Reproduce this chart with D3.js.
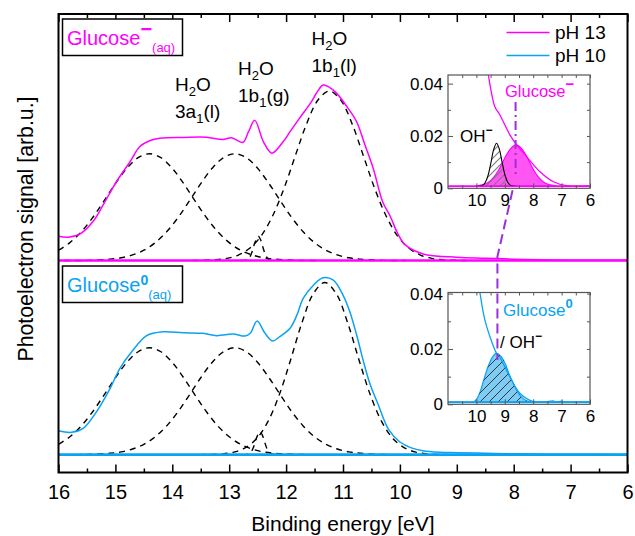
<!DOCTYPE html>
<html><head><meta charset="utf-8">
<script src="https://cdn.jsdelivr.net/npm/d3@7"></script>
<style>body{margin:0;background:#fff}svg{display:block}</style>
</head><body>
<svg id="c" width="635" height="536"></svg>
<script>
// ---------------- data (binding energy [eV], signal) ----------------
const xTicks = [16,15,14,13,12,11,10,9,8,7,6];
const insetXTicks = [10,9,8,7,6];
const insetYTicks = [0,0.02,0.04];
const seriesNames = ["pH 13","pH 10"];

// main spectra (pH 13 drawn with offset 1)
const spec13 = [[16.0,0.125],[15.83,0.120],[15.62,0.137],[15.39,0.202],[15.21,0.289],[14.98,0.407],[14.74,0.510],[14.57,0.587],[14.39,0.618],[14.22,0.630],[13.8,0.634],[13.40,0.635],[13.11,0.623],[12.96,0.633],[12.76,0.609],[12.66,0.664],[12.55,0.722],[12.40,0.613],[12.25,0.553],[12.05,0.613],[11.93,0.664],[11.76,0.735],[11.55,0.82],[11.45,0.87],[11.35,0.904],[11.25,0.895],[11.11,0.861],[10.91,0.784],[10.76,0.715],[10.62,0.60],[10.47,0.476],[10.3,0.30],[10.17,0.228],[10.04,0.14],[9.91,0.082],[9.59,0.034],[9.0,0.017],[8.5,0.012],[8.0,0.007],[7.5,0.004],[7.0,0.002],[6.0,0.001]];
const spec10 = [[16.0,0.123],[15.77,0.115],[15.56,0.137],[15.33,0.222],[15.09,0.343],[14.92,0.445],[14.71,0.531],[14.45,0.613],[14.16,0.633],[13.81,0.628],[13.46,0.625],[13.22,0.613],[12.93,0.621],[12.72,0.611],[12.63,0.625],[12.51,0.688],[12.37,0.625],[12.24,0.586],[12.11,0.608],[11.93,0.651],[11.81,0.719],[11.70,0.805],[11.52,0.873],[11.35,0.911],[11.17,0.899],[11.0,0.822],[10.88,0.736],[10.76,0.616],[10.64,0.479],[10.53,0.368],[10.38,0.257],[10.2,0.13],[10.0,0.065],[9.8,0.035],[9.6,0.02],[9.3,0.012],[9.0,0.010],[8.5,0.007],[8.0,0.004],[7.0,0.002],[6.0,0.001]];

// fitted components (dashed), pH 13
const fit13a = [[16.0,0.053],[15.8,0.092],[15.6,0.148],[15.4,0.221],[15.2,0.307],[15.0,0.396],[14.8,0.475],[14.6,0.530],[14.4,0.550],[14.2,0.530],[14.0,0.475],[13.8,0.396],[13.6,0.307],[13.4,0.221],[13.2,0.148],[13.0,0.092],[12.8,0.053],[12.6,0.029],[12.4,0.014],[12.2,0.007],[11.8,0.001],[11.4,0.0]];
const fit13b = [[15.9,0.0],[15.5,0.001],[15.1,0.007],[14.9,0.014],[14.7,0.029],[14.5,0.053],[14.3,0.092],[14.1,0.148],[13.9,0.221],[13.7,0.307],[13.5,0.396],[13.3,0.475],[13.1,0.530],[12.9,0.550],[12.7,0.530],[12.5,0.475],[12.3,0.396],[12.1,0.307],[11.9,0.221],[11.7,0.148],[11.5,0.092],[11.3,0.053],[11.1,0.029],[10.9,0.014],[10.7,0.007],[10.3,0.001],[9.9,0.0]];
const fit13c = [[12.8,0.0],[12.7,0.003],[12.65,0.013],[12.6,0.043],[12.55,0.091],[12.49,0.125],[12.45,0.108],[12.4,0.061],[12.35,0.022],[12.3,0.005],[12.2,0.0]];
const fit13d = [[13.64,0.0],[13.24,0.004],[13.04,0.011],[12.84,0.028],[12.64,0.063],[12.44,0.126],[12.24,0.228],[12.04,0.369],[11.84,0.538],[11.64,0.704],[11.44,0.827],[11.24,0.873],[11.04,0.827],[10.84,0.704],[10.64,0.538],[10.44,0.369],[10.24,0.228],[10.04,0.126],[9.84,0.063],[9.64,0.028],[9.44,0.011],[9.24,0.004],[8.84,0.0]];
// fitted components (dashed), pH 10
const fit10a = [[16.0,0.053],[15.8,0.092],[15.6,0.148],[15.4,0.221],[15.2,0.307],[15.0,0.396],[14.8,0.475],[14.6,0.530],[14.4,0.551],[14.2,0.530],[14.0,0.475],[13.8,0.396],[13.6,0.307],[13.4,0.221],[13.2,0.148],[13.0,0.092],[12.8,0.053],[12.6,0.029],[12.4,0.014],[12.2,0.007],[11.8,0.001],[11.4,0.0]];
const fit10b = [[15.9,0.0],[15.5,0.001],[15.1,0.007],[14.9,0.014],[14.7,0.029],[14.5,0.053],[14.3,0.092],[14.1,0.148],[13.9,0.221],[13.7,0.307],[13.5,0.396],[13.3,0.475],[13.1,0.530],[12.9,0.551],[12.7,0.530],[12.5,0.475],[12.3,0.396],[12.1,0.307],[11.9,0.221],[11.7,0.148],[11.5,0.092],[11.3,0.053],[11.1,0.029],[10.9,0.014],[10.7,0.007],[10.3,0.001],[9.9,0.0]];
const fit10c = [[12.77,0.0],[12.67,0.003],[12.62,0.012],[12.57,0.040],[12.52,0.086],[12.46,0.118],[12.42,0.102],[12.37,0.058],[12.32,0.021],[12.27,0.005],[12.17,0.0]];
const fit10d = [[13.52,0.0],[13.12,0.004],[12.92,0.013],[12.72,0.035],[12.52,0.082],[12.32,0.170],[12.12,0.308],[11.92,0.489],[11.72,0.681],[11.52,0.830],[11.32,0.887],[11.12,0.830],[10.92,0.681],[10.72,0.489],[10.52,0.308],[10.32,0.170],[10.12,0.082],[9.92,0.035],[9.72,0.013],[9.52,0.004],[9.12,0.0]];

// inset pH 13
const inset13Spec = [[9.75,0.055],[9.58,0.0433],[9.35,0.0312],[9.17,0.028],[8.82,0.0204],[8.62,0.0172],[8.23,0.0121],[7.76,0.0063],[7.29,0.0025],[6.82,0.0010],[6.0,0.0009]];
const inset13Glu = [[11.0,0.0008],[10.2,0.0008],[10.0,0.0009],[9.8,0.0013],[9.6,0.0021],[9.4,0.0041],[9.2,0.0073],[9.0,0.0116],[8.8,0.0151],[8.6,0.0166],[8.4,0.0151],[8.2,0.0116],[8.0,0.0073],[7.8,0.0041],[7.6,0.0021],[7.4,0.0013],[7.2,0.0009],[7.0,0.0008],[6.0,0.0008]];
const inset13OH = [[9.99,0.0008],[9.89,0.0009],[9.79,0.0011],[9.69,0.0022],[9.59,0.0049],[9.49,0.0097],[9.39,0.0149],[9.29,0.0172],[9.19,0.0149],[9.09,0.0097],[8.99,0.0049],[8.89,0.0022],[8.79,0.0011],[8.69,0.0009],[8.59,0.0008]];
// inset pH 10
const inset10Spec = [[10.0,0.05],[9.87,0.040],[9.70,0.0304],[9.46,0.0226],[9.29,0.0184],[9.17,0.0169],[8.82,0.0099],[8.47,0.0040],[8.0,0.0010],[7.6,0.0008],[7.3,0.0012],[7.2,0.0008],[7.0,0.0011],[6.9,0.0008],[6.0,0.0008]];
const inset10Glu = [[11.0,0.0008],[10.2,0.0008],[10.1,0.0009],[10.0,0.0018],[9.87,0.0045],[9.75,0.0085],[9.6,0.0133],[9.45,0.0168],[9.3,0.0184],[9.15,0.0175],[9.0,0.0150],[8.85,0.0110],[8.7,0.0075],[8.55,0.0045],[8.4,0.0025],[8.25,0.0014],[8.1,0.0009],[7.9,0.0008],[6.0,0.0008]];
const peakGlucoseMinus = 8.62, peakGlucoseNeutral = 9.26;

// ---------------- drawing ----------------
const FONT = "'Liberation Sans', Arial, Helvetica, sans-serif";
const MAG = "#ff00ff", BLUE = "#0aa2f2", PURPLE = "#9b30d9";
const svg = d3.select("#c").style("font-family", FONT);
const defs = svg.append("defs");

const L = 58.5, R = 627.5, T = 14, B = 472.5;
const x = d3.scaleLinear().domain([16, 6]).range([L, R]);
const y = d3.scaleLinear().domain([-0.092, 2.27]).range([B, T]);
const OFF13 = 1.0;

defs.append("clipPath").attr("id","mainClip").append("rect").attr("x",L).attr("y",T).attr("width",R-L).attr("height",B-T);

const smooth = d3.curveCatmullRom.alpha(0.5);
const mainLine = off => d3.line().x(d=>x(d[0])).y(d=>y(d[1]+off)).curve(smooth);

const plot = svg.append("g").attr("clip-path","url(#mainClip)");
// dashed fit components
[[fit13a,OFF13],[fit13b,OFF13],[fit13c,OFF13],[fit13d,OFF13],[fit10a,0],[fit10b,0],[fit10c,0],[fit10d,0]].forEach(([d,o])=>{
  plot.append("path").datum(d).attr("d",mainLine(o)).attr("fill","none").attr("stroke","#000")
    .attr("stroke-width",1.4).attr("stroke-dasharray","6,5");
});
// spectra
plot.append("path").datum(spec13).attr("d",mainLine(OFF13)).attr("fill","none").attr("stroke",MAG).attr("stroke-width",1.5);
plot.append("path").datum(spec10).attr("d",mainLine(0)).attr("fill","none").attr("stroke",BLUE).attr("stroke-width",1.5);
// zero lines
plot.append("line").attr("x1",L).attr("x2",R).attr("y1",y(OFF13)).attr("y2",y(OFF13)).attr("stroke",MAG).attr("stroke-width",2.6);
plot.append("line").attr("x1",L).attr("x2",R).attr("y1",y(0)).attr("y2",y(0)).attr("stroke",BLUE).attr("stroke-width",2.6);

// main axes
const halfTicks = d3.range(6.5, 16, 1);
function styleAxis(g, fs){
  g.select(".domain").remove();
  g.selectAll("line").attr("stroke","#000").attr("stroke-width",1.5);
  g.selectAll("text").attr("font-family",FONT).attr("font-size",fs).attr("fill","#000");
}
svg.append("g").attr("transform",`translate(0,${B})`)
  .call(d3.axisBottom(x).tickValues(xTicks).tickSize(-8).tickPadding(12).tickFormat(d3.format("d")))
  .call(g=>styleAxis(g,20));
svg.append("g").attr("transform",`translate(0,${B})`)
  .call(d3.axisBottom(x).tickValues(halfTicks).tickSize(-4).tickFormat(""))
  .call(g=>styleAxis(g,20));
svg.append("g").attr("transform",`translate(0,${T})`)
  .call(d3.axisTop(x).tickValues(xTicks).tickSize(-8).tickFormat(""))
  .call(g=>styleAxis(g,20));
svg.append("g").attr("transform",`translate(0,${T})`)
  .call(d3.axisTop(x).tickValues(halfTicks).tickSize(-4).tickFormat(""))
  .call(g=>styleAxis(g,20));
svg.append("rect").attr("x",L).attr("y",T).attr("width",R-L).attr("height",B-T)
  .attr("fill","none").attr("stroke","#000").attr("stroke-width",2);

// axis titles
svg.append("text").attr("x",(L+R)/2).attr("y",531).attr("text-anchor","middle").attr("font-size",21).text("Binding energy [eV]");
svg.append("text").attr("transform","translate(33,229) rotate(-90)").attr("text-anchor","middle")
  .attr("font-size",22).attr("textLength",265).attr("lengthAdjust","spacingAndGlyphs").text("Photoelectron signal [arb.u.]");

// legend
[[seriesNames[0],MAG,32.5],[seriesNames[1],BLUE,55.5]].forEach(([t,c,yy])=>{
  svg.append("line").attr("x1",506.5).attr("x2",549.5).attr("y1",yy).attr("y2",yy).attr("stroke",c).attr("stroke-width",1.6);
  svg.append("text").attr("x",555).attr("y",yy+6.5).attr("font-size",19).text(t);
});

// panel label boxes
function labelBox(y0, color, sup, supBold){
  svg.append("rect").attr("x",62.5).attr("y",y0).attr("width",120).attr("height",36.5)
    .attr("fill","#fff").attr("stroke","#000").attr("stroke-width",1.5);
  const t = svg.append("text").attr("x",67).attr("y",y0+26).attr("font-size",20).attr("fill",color);
  t.append("tspan").text("Glucose");
  t.append("tspan").attr("dy",supBold?-7:-9).attr("font-size",supBold?14:20).attr("font-weight","bold").text(sup);
  t.append("tspan").attr("dy",supBold?13.5:15.5).attr("font-size",13).text("(aq)");
}
labelBox(19, MAG, "\u2212", false);
labelBox(266, BLUE, "0", true);

// H2O band labels
function bandLabel(x0, y0, top, n, tail){
  const t1 = svg.append("text").attr("x",x0).attr("y",y0).attr("font-size",19);
  t1.append("tspan").text("H");
  t1.append("tspan").attr("dy",5).attr("font-size",13).text("2");
  t1.append("tspan").attr("dy",-5).text("O");
  const t2 = svg.append("text").attr("x",x0).attr("y",y0+27).attr("font-size",19);
  t2.append("tspan").text(top);
  t2.append("tspan").attr("dy",5).attr("font-size",13).text(n);
  t2.append("tspan").attr("dy",-5).text(tail);
}
bandLabel(175, 90.5, "3a", "1", "(l)");
bandLabel(238, 75, "1b", "1", "(g)");
bandLabel(311.5, 45, "1b", "1", "(l)");

// hatch patterns
const p1 = defs.append("pattern").attr("id","hatchGray").attr("patternUnits","userSpaceOnUse").attr("width",7).attr("height",7);
p1.append("path").attr("d","M-1,1 L1,-1 M0,7 L7,0 M6,8 L8,6").attr("stroke","#7a7a7a").attr("stroke-width",1.1);
const p2 = defs.append("pattern").attr("id","hatchDark").attr("patternUnits","userSpaceOnUse").attr("width",9).attr("height",9);
p2.append("path").attr("d","M-1,1 L1,-1 M0,9 L9,0 M8,10 L10,8").attr("stroke","#2a3a48").attr("stroke-width",1);

// insets
function inset(id, y0, y1, yMax){
  const ix = d3.scaleLinear().domain([11,6]).range([448,590]);
  const iy = d3.scaleLinear().domain([0,yMax]).range([y1,y0]);
  defs.append("clipPath").attr("id",id).append("rect").attr("x",448).attr("y",y0).attr("width",142).attr("height",y1-y0);
  const g = svg.append("g");
  g.append("rect").attr("x",448).attr("y",y0).attr("width",142).attr("height",y1-y0).attr("fill","#fff");
  const c = g.append("g").attr("clip-path",`url(#${id})`);
  const st = (s)=>{ s.select(".domain").remove(); s.selectAll("line").attr("stroke","#555").attr("stroke-width",1);
    s.selectAll("text").attr("font-family",FONT).attr("font-size",17).attr("fill","#000"); };
  g.append("g").attr("transform",`translate(0,${y1})`).call(d3.axisBottom(ix).tickValues(insetXTicks).tickSize(-5).tickPadding(6).tickFormat(d3.format("d"))).call(st);
  g.append("g").attr("transform",`translate(0,${y1})`).call(d3.axisBottom(ix).tickValues([10.5,9.5,8.5,7.5,6.5]).tickSize(-3).tickFormat("")).call(st);
  g.append("g").attr("transform",`translate(0,${y0})`).call(d3.axisTop(ix).tickValues(insetXTicks.concat([10.5,9.5,8.5,7.5,6.5])).tickSize(-3).tickFormat("")).call(st);
  g.append("g").attr("transform",`translate(448,0)`).call(d3.axisLeft(iy).tickValues(insetYTicks).tickSize(-5).tickPadding(5).tickFormat(d=>d===0?"0":d3.format(".2f")(d))).call(st);
  g.append("g").attr("transform",`translate(448,0)`).call(d3.axisLeft(iy).tickValues([0.01,0.03]).tickSize(-3).tickFormat("")).call(st);
  g.append("g").attr("transform",`translate(590,0)`).call(d3.axisRight(iy).tickValues([0.01,0.02,0.03,0.04]).tickSize(-3).tickFormat("")).call(st);
  return {ix, iy, g, c};
}
const A = inset("in13", 75, 188.3, 0.0433);
const Bn = inset("in10", 292.5, 404.3, 0.0404);

function area(s){ return d3.area().x(d=>s.ix(d[0])).y0(s.iy(0.0008)).y1(d=>s.iy(d[1])).curve(smooth); }
function line(s){ return d3.line().x(d=>s.ix(d[0])).y(d=>s.iy(d[1])).curve(smooth); }

// inset pH 13
A.c.append("path").datum(inset13Glu).attr("d",area(A)).attr("fill","#ff55f2").attr("stroke",MAG).attr("stroke-width",1.2);
A.c.append("path").datum(inset13OH).attr("d",area(A)).attr("fill","url(#hatchGray)").attr("stroke","none");
A.c.append("path").datum(inset13OH).attr("d",line(A)).attr("fill","none").attr("stroke","#000").attr("stroke-width",1.1);
A.c.append("path").datum(inset13Spec).attr("d",line(A)).attr("fill","none").attr("stroke",MAG).attr("stroke-width",1.3);
A.c.append("line").attr("x1",448).attr("x2",590).attr("y1",A.iy(0.0008)).attr("y2",A.iy(0.0008)).attr("stroke",MAG).attr("stroke-width",1.6);
A.g.append("rect").attr("x",448).attr("y",75).attr("width",142).attr("height",113.3).attr("fill","none").attr("stroke","#555").attr("stroke-width",1.2);

// inset pH 10
Bn.c.append("path").datum(inset10Glu).attr("d",area(Bn)).attr("fill","#80cbf2").attr("stroke",BLUE).attr("stroke-width",1.2);
Bn.c.append("path").datum(inset10Glu).attr("d",area(Bn)).attr("fill","url(#hatchDark)").attr("stroke","none");
Bn.c.append("path").datum(inset10Spec).attr("d",line(Bn)).attr("fill","none").attr("stroke",BLUE).attr("stroke-width",1.3);
Bn.c.append("line").attr("x1",448).attr("x2",590).attr("y1",Bn.iy(0.0008)).attr("y2",Bn.iy(0.0008)).attr("stroke",BLUE).attr("stroke-width",1.6);
Bn.g.append("rect").attr("x",448).attr("y",292.5).attr("width",142).attr("height",111.8).attr("fill","none").attr("stroke","#555").attr("stroke-width",1.2);

// peak markers (purple)
svg.append("line").attr("x1",A.ix(peakGlucoseMinus)).attr("x2",A.ix(peakGlucoseMinus))
  .attr("y1",A.iy(0.033)).attr("y2",A.iy(0.005)).attr("stroke",PURPLE).attr("stroke-width",2).attr("stroke-dasharray","9,4,2,4");
svg.append("path").attr("d",d3.line()([
    [A.ix(peakGlucoseMinus)-3, A.iy(0)+2],
    [Bn.ix(peakGlucoseNeutral), y(1.02)],
    [Bn.ix(peakGlucoseNeutral), Bn.iy(0.016)]]))
  .attr("fill","none").attr("stroke",PURPLE).attr("stroke-width",2).attr("stroke-dasharray","10,5");

// inset labels
let t = svg.append("text").attr("x",505).attr("y",97).attr("font-size",16.5).attr("fill",MAG);
t.append("tspan").text("Glucose"); t.append("tspan").attr("dy",-8).attr("font-weight","bold").attr("font-size",15).text("\u2212");
t = svg.append("text").attr("x",460).attr("y",141.5).attr("font-size",17).attr("fill","#000");
t.append("tspan").text("OH"); t.append("tspan").attr("dy",-8).attr("font-weight","bold").attr("font-size",12).text("\u2212");
t = svg.append("text").attr("x",503).attr("y",316).attr("font-size",17).attr("fill",BLUE);
t.append("tspan").text("Glucose"); t.append("tspan").attr("dy",-8).attr("font-weight","bold").attr("font-size",13).text("0");
t = svg.append("text").attr("x",500).attr("y",348).attr("font-size",17).attr("fill","#000");
t.append("tspan").text("/ OH"); t.append("tspan").attr("dy",-8).attr("font-weight","bold").attr("font-size",12).text("\u2212");
</script>
</body></html>
